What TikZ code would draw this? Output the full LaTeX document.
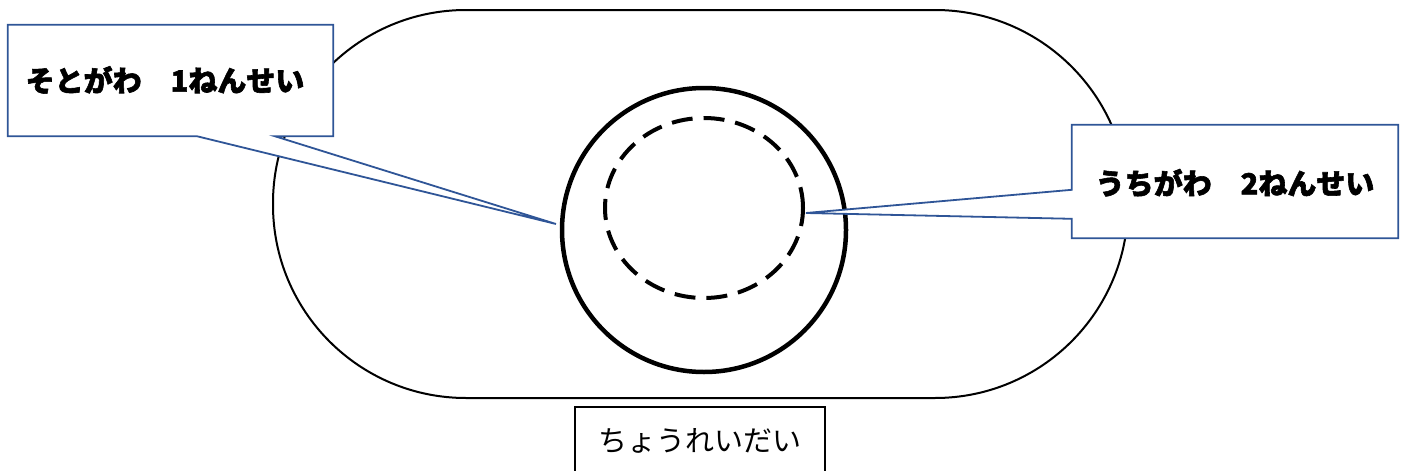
\documentclass[tikz,border=0pt]{standalone}
\usepackage{fontspec}
\usepackage{tikz}
\usetikzlibrary{calc}
\newfontfamily\jpfont{Noto Sans CJK JP}[BoldFeatures={FakeBold=2}]
\definecolor{calloutblue}{HTML}{2F5597}

\begin{document}
\begin{tikzpicture}[x=1pt,y=-1pt]
  \useasboundingbox (0,0) rectangle (1405,471);
  % track
  \draw[line width=2pt,rounded corners=193pt] (273,10) rectangle (1128,398);
  % field
  \draw[line width=4.5pt] (704,230) circle[radius=142pt];
  \draw[line width=4pt,dash pattern=on 21pt off 11pt] (704,208) ellipse[x radius=99pt,y radius=90pt];
  % callouts
  \node[minimum width=325pt,minimum height=111pt,inner sep=0pt] (soto) at (170.5,80.5) {};
  \coordinate (sotoTip) at (556,224);
  \draw[calloutblue,line width=1.8pt,fill=white,line join=miter]
    (soto.north west) -- (soto.north east) -- (soto.south east)
    -- ($(soto.south west)+(267pt,0)$) -- (sotoTip) -- ($(soto.south west)+(189pt,0)$)
    -- (soto.south west) -- cycle;
  \node[font=\jpfont\bfseries\fontsize{29pt}{32pt}\selectfont] (sotoText) at (165,80) {そとがわ　1ねんせい};
  \node[minimum width=326pt,minimum height=113pt,inner sep=0pt] (uchi) at (1235,181.5) {};
  \coordinate (uchiTip) at (806,213);
  \draw[calloutblue,line width=1.8pt,fill=white,line join=miter]
    (uchi.north west) -- (uchi.north east) -- (uchi.south east) -- (uchi.south west)
    -- ($(uchi.north west)+(0,-94pt)$) -- (uchiTip) -- ($(uchi.north west)+(0,-65pt)$)
    -- cycle;
  \node[font=\jpfont\bfseries\fontsize{29pt}{32pt}\selectfont] (uchiText) at (1235,183) {うちがわ　2ねんせい};
  % stand
  \node[draw,line width=2pt,minimum width=250pt,minimum height=70pt,inner sep=0pt,anchor=north] (dai) at (700,406) {};
  \node[font=\jpfont\fontsize{29pt}{32pt}\selectfont] (daiText) at (700,441) {ちょうれいだい};
\end{tikzpicture}
\end{document}
